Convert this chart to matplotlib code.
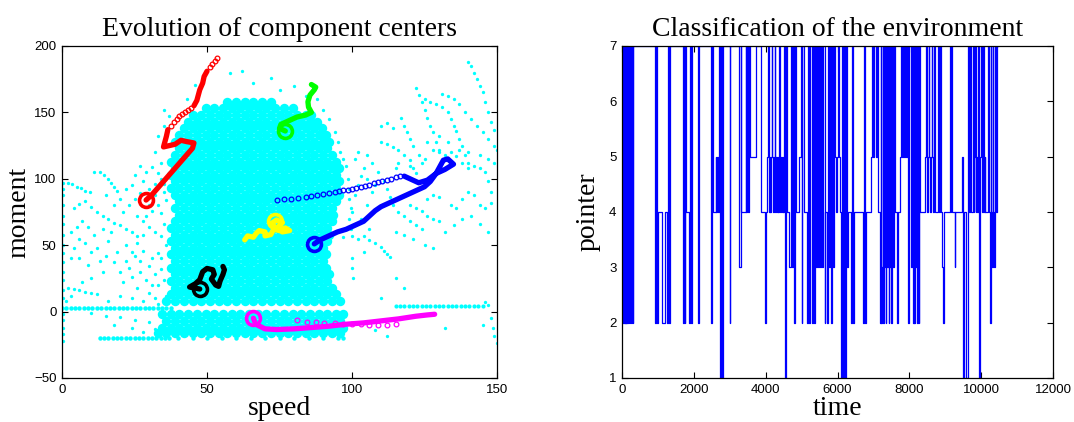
import numpy as np
import matplotlib
matplotlib.use("Agg")
from matplotlib import pyplot as plt

# ---- left panel: cyan observation cloud ----
# dense core, one row of speeds per moment level
core_moment = [158, 153, 148, 143, 138, 133, 128, 123, 118, 113, 108, 103, 98, 93, 88, 83, 78, 73,
               68, 63, 58, 53, 48, 43, 38, 33, 28, 23, 18, 13, 8, -2, -7, -12, -16]
core_speed = [
    [57, 60, 63, 66, 69, 72],
    [49.5, 52.5, 55.5, 58.5, 61.5, 64.5, 67.5, 70.5, 73.5, 76.5, 79.5],
    [45, 48, 51, 54, 57, 60, 63, 66, 69, 72, 75, 78, 81, 84, 86],
    [43.5, 46.5, 49.5, 52.5, 55.5, 58.5, 61.5, 64.5, 67.5, 70.5, 73.5, 76.5, 79.5, 82.5, 85.5, 88],
    [42, 45, 48, 51, 54, 57, 60, 63, 66, 69, 72, 75, 78, 81, 84, 87, 89.5],
    [40.5, 43.5, 46.5, 49.5, 52.5, 55.5, 58.5, 61.5, 64.5, 67.5, 70.5, 73.5, 76.5, 79.5, 82.5, 85.5, 88.5, 91],
    [39, 42, 45, 48, 51, 54, 57, 60, 63, 66, 69, 72, 75, 78, 81, 84, 87, 90, 92],
    [40.5, 43.5, 46.5, 49.5, 52.5, 55.5, 58.5, 61.5, 64.5, 67.5, 70.5, 73.5, 76.5, 79.5, 82.5, 85.5, 88.5, 91.5],
    [39, 42, 45, 48, 51, 54, 57, 60, 63, 66, 69, 72, 75, 78, 81, 84, 87, 90, 93],
    [37.5, 40.5, 43.5, 46.5, 49.5, 52.5, 55.5, 58.5, 61.5, 64.5, 67.5, 70.5, 73.5, 76.5, 79.5, 82.5, 85.5, 88.5, 91.5, 94.5],
    [39, 42, 45, 48, 51, 54, 57, 60, 63, 66, 69, 72, 75, 78, 81, 84, 87, 90, 93, 95.5],
    [37.5, 40.5, 43.5, 46.5, 49.5, 52.5, 55.5, 58.5, 61.5, 64.5, 67.5, 70.5, 73.5, 76.5, 79.5, 82.5, 85.5, 88.5, 91.5, 94.5],
    [39, 42, 45, 48, 51, 54, 57, 60, 63, 66, 69, 72, 75, 78, 81, 84, 87, 90, 93, 95.5],
    [37.5, 40.5, 43.5, 46.5, 49.5, 52.5, 55.5, 58.5, 61.5, 64.5, 67.5, 70.5, 73.5, 76.5, 79.5, 82.5, 85.5, 88.5, 91.5, 94.5],
    [39, 42, 45, 48, 51, 54, 57, 60, 63, 66, 69, 72, 75, 78, 81, 84, 87, 90, 93, 95.5],
    [40.5, 43.5, 46.5, 49.5, 52.5, 55.5, 58.5, 61.5, 64.5, 67.5, 70.5, 73.5, 76.5, 79.5, 82.5, 85.5, 88.5, 91.5, 94.5],
    [39, 42, 45, 48, 51, 54, 57, 60, 63, 66, 69, 72, 75, 78, 81, 84, 87, 90, 93],
    [40.5, 43.5, 46.5, 49.5, 52.5, 55.5, 58.5, 61.5, 64.5, 67.5, 70.5, 73.5, 76.5, 79.5, 82.5, 85.5, 88.5, 91.5, 93.5],
    [39, 42, 45, 48, 51, 54, 57, 60, 63, 66, 69, 72, 75, 78, 81, 84, 87, 90, 93],
    [37.5, 40.5, 43.5, 46.5, 49.5, 52.5, 55.5, 58.5, 61.5, 64.5, 67.5, 70.5, 73.5, 76.5, 79.5, 82.5, 85.5, 88.5, 91.5],
    [39, 42, 45, 48, 51, 54, 57, 60, 63, 66, 69, 72, 75, 78, 81, 84, 87, 90, 92],
    [37.5, 40.5, 43.5, 46.5, 49.5, 52.5, 55.5, 58.5, 61.5, 64.5, 67.5, 70.5, 73.5, 76.5, 79.5, 82.5, 85.5, 88.5, 91.5],
    [39, 42, 45, 48, 51, 54, 57, 60, 63, 66, 69, 72, 75, 78, 81, 84, 87, 90],
    [37.5, 40.5, 43.5, 46.5, 49.5, 52.5, 55.5, 58.5, 61.5, 64.5, 67.5, 70.5, 73.5, 76.5, 79.5, 82.5, 85.5, 88.5, 91],
    [39, 42, 45, 48, 51, 54, 57, 60, 63, 66, 69, 72, 75, 78, 81, 84, 87, 90],
    [37.5, 40.5, 43.5, 46.5, 49.5, 52.5, 55.5, 58.5, 61.5, 64.5, 67.5, 70.5, 73.5, 76.5, 79.5, 82.5, 85.5, 88.5, 91],
    [39, 42, 45, 48, 51, 54, 57, 60, 63, 66, 69, 72, 75, 78, 81, 84, 87, 90, 92],
    [37.5, 40.5, 43.5, 46.5, 49.5, 52.5, 55.5, 58.5, 61.5, 64.5, 67.5, 70.5, 73.5, 76.5, 79.5, 82.5, 85.5, 88.5, 91.5],
    [39, 42, 45, 48, 51, 54, 57, 60, 63, 66, 69, 72, 75, 78, 81, 84, 87, 90, 93],
    [37.5, 40.5, 43.5, 46.5, 49.5, 52.5, 55.5, 58.5, 61.5, 64.5, 67.5, 70.5, 73.5, 76.5, 79.5, 82.5, 85.5, 88.5, 91.5, 94.5],
    [36, 39, 42, 45, 48, 51, 54, 57, 60, 63, 66, 69, 72, 75, 78, 81, 84, 87, 90, 93, 96],
    [34.5, 37.5, 40.5, 43.5, 46.5, 49.5, 52.5, 55.5, 58.5, 61.5, 64.5, 67.5, 70.5, 73.5, 76.5, 79.5, 82.5, 85.5, 88.5, 91.5, 94.5, 97],
    [36, 39, 42, 45, 48, 51, 54, 57, 60, 63, 66, 69, 72, 75, 78, 81, 84, 87, 90, 93, 96],
    [34.5, 37.5, 40.5, 43.5, 46.5, 49.5, 52.5, 55.5, 58.5, 61.5, 64.5, 67.5, 70.5, 73.5, 76.5, 79.5, 82.5, 85.5, 88.5, 91.5, 94.5, 97],
    [33, 36, 39, 42, 45, 48, 51, 54, 57, 60, 63, 66, 69, 72, 75, 78, 81, 84, 87, 90, 93, 96],
]

# the two horizontal bands of the cloud and the short one on the right
band_top_speed = [0, 1.5, 3, 4.5, 6, 7.5, 9, 10.5, 12, 13.5, 15, 16.5, 18, 19.5, 21, 22.5, 24, 25.5,
                  27, 28.5, 30, 31.5, 33, 34.5, 36, 37.5]
band_top_moment = 3
band_low_speed = [13, 14.5, 16, 17.5, 19, 20.5, 22, 23.5, 25, 26.5, 28, 29.5, 31, 32.5, 34, 35.5,
                  37, 40, 45, 50, 55, 60, 65, 70, 75, 80, 85, 90, 95, 97]
band_low_moment = -20
band_right_speed = [115, 116.5, 118, 119.5, 121, 122.5, 124, 125.5, 127, 128.5, 130, 131.5, 133,
                    134.5, 136, 137.5, 139, 140.5, 142, 143.5, 145]
band_right_moment = 4

# scattered observations outside the core (speed, moment)
cloud_sparse = [
    (0.5, 97), (0.5, 92), (0.5, 88), (0.5, 80), (0.5, 72), (0.5, 66), (0.5, 58), (0.5, 50), (0.5, 44),
    (0.5, 37), (0.5, 30), (0.5, 24), (0.5, 16), (0.5, 10), (0.5, -2), (0.5, -6), (0.5, -12), (0.5, -17),
    (0.5, -22), (2, 97), (3.5, 96), (5, 94), (6.5, 93), (8, 91), (9.5, 90), (11, 105), (13, 105),
    (14.5, 103), (16, 100), (17, 97), (18, 94), (19, 91), (4, 78), (6, 81), (8, 83), (10, 79), (12, 75),
    (14, 72), (16, 70), (18, 67), (3, 60), (5, 64), (7, 68), (20, 65), (22, 62), (24, 60), (26, 57),
    (21, 75), (23, 80), (25, 85), (27, 89), (24, 95), (28, 98), (30, 92), (32, 88), (26, 72), (28, 68),
    (30, 64), (32, 60), (34, 57), (31, 76), (33, 80), (8, 52), (12, 48), (16, 53), (19, 45), (22, 50),
    (25, 42), (28, 46), (31, 40), (33, 44), (30, 34), (27, 30), (24, 26), (21, 22), (26, 18), (30, 14),
    (33, 20), (32, 28), (34, 32), (2, 18), (4, 17), (6, 16), (8, 15), (10, 14), (12, 13), (3, 12),
    (1.5, 8), (7, 22), (10, 25), (14, 30), (13, 38), (6, 40), (9, 35), (10, -1), (15, -3),
    (20, -4), (25, -6), (30, -8), (18, -10), (24, -12), (28, -15), (32, -13), (43, 160), (46, 171),
    (58, 180), (62, 181), (66, 172), (72, 176), (75, 167), (80, 170), (84, 162), (88, 160), (90, 152),
    (92, 145), (94, 135), (95, 128), (96, 120), (97, 115), (35, 152), (37, 147), (35, 140), (33, 132),
    (32, 120), (34, 112), (33, 104), (35, 96), (31, 109), (35, 90), (36, 84), (34, 74), (35, 66),
    (36, 50), (34, 40), (35, 24), (36, 12), (33, 6),
    (20, 30), (22, 38), (24, 45), (26, 52), (28, 58), (29, 72), (30, 80), (32, 96), (34, 100),
    (29, 105), (27, 110), (25, 103), (22, 92), (20, 85), (18, 80), (15, 88), (17, 60), (14, 62),
    (11, 58), (9, 64), (6, 55), (4, 48), (3, 40), (10, 45), (15, 42), (18, 37), (23, 33), (27, 38),
    (29, 24), (31, 20), (24, 10), (20, 12), (16, 8), (28, 8), (32, 10),
    (98, 110), (98.5, 100), (99, 92), (99, 85), (99.5, 78), (99, 70), (99.5, 62), (100, 40), (100, 33),
    (100.5, 25), (97, 56), (100, 57), (102, 55), (104, 57), (106, 54), (108, 52), (110, 49), (111, 46),
    (112, 43), (113, 41), (105, 118), (107, 112), (109, 105), (111, 98), (112, 92), (113, 86),
    (114, 80), (116, 75), (118, 72), (120, 68), (122, 65), (124, 62), (110, 128), (112, 126),
    (114, 124), (116, 122), (118, 118), (120, 114), (121, 108), (122, 104), (117, 146), (118, 140),
    (119, 135), (120, 130), (121, 125), (123, 118), (124, 112), (122, 168), (123, 163), (124, 158),
    (125, 152), (126, 146), (127, 140), (128, 135), (129, 128), (130, 122), (125, 160), (127, 158),
    (129, 156), (131, 154), (133, 150), (134, 145), (135, 140), (136, 136), (137, 130), (138, 125),
    (139, 118), (140, 112), (142, 110), (144, 108), (146, 105), (147, 98), (148, 90), (148, 82),
    (131, 164), (133, 162), (135, 160), (137, 156), (139, 150), (141, 145), (143, 140), (145, 135),
    (147, 130), (149, 125), (150, 122), (140, 188), (141, 185), (142, 180), (143, 175), (144, 170),
    (145, 165), (146, 158), (147, 150), (148, 143), (149, 137), (120, 80), (122, 78), (124, 76),
    (126, 72), (128, 70), (130, 68), (126, 85), (128, 88), (130, 86), (134, 80), (136, 78), (138, 85),
    (140, 90), (142, 88), (144, 80), (146, 78), (128, 122), (130, 120), (132, 118), (134, 120),
    (136, 117), (138, 112), (140, 108), (120, 110), (125, 115), (115, 108), (116, 112), (115, 25),
    (118, 18), (110, 10), (108, -14), (112, -18), (132, -12), (145, -10), (146, 7), (147, 5),
    (148, -5), (148.5, -12), (149, -18), (150, -24), (100, 75), (101, 88), (102, 95), (103, 102),
    (104, 108), (101, 115), (102, 120),
    (103, 70), (105, 80), (107, 90), (108, 95), (105, 100), (106, 62), (104, 45), (115, 60),
    (118, 58), (121, 55), (125, 50), (128, 48), (132, 60), (135, 65), (138, 70), (141, 72),
    (144, 66), (147, 60), (110, 140), (112, 142), (114, 138), (126, 128), (130, 132), (133, 128),
    (137, 122), (140, 120), (144, 118), (147, 115), (149, 112),
]

# ---- component centre trajectories (speed, moment) ----
red_path = [(29, 84), (31, 88), (33, 93), (35, 98), (37, 103), (39, 108), (41, 113), (43, 118),
            (45, 123), (45.5, 127), (43, 128), (41, 129), (39, 126), (37, 125), (35, 124),
            (35.5, 128), (36, 132), (36.5, 137)]
red_sparse = [(37.5, 140), (38.5, 143), (39.5, 145), (40.5, 147), (41.5, 149), (42.5, 150.5),
              (43.5, 152), (44.5, 153.5)]
red_top = [(45.5, 155), (46.5, 159), (47, 163), (47.5, 167), (48.5, 172), (49, 177), (50, 181)]
red_tail = [(51, 184), (51.8, 186.5), (52.6, 189), (53.3, 191)]
green_path = [(77, 136), (75, 138), (75.5, 141), (78, 143.5), (81, 146.5), (84, 148), (86, 150),
              (85, 154), (84.8, 158), (85.5, 163), (87, 167), (87.5, 169), (86, 171)]
blue_path = [(87, 51), (89, 54), (92, 57), (95, 60), (98, 62), (101, 65), (104, 68), (106, 72),
             (108, 76), (110, 79), (113, 82), (116, 85), (119, 88), (122, 91), (125, 94), (127, 98),
             (129, 104), (130.5, 110), (131.5, 114), (133, 115), (135, 111), (132, 107), (129, 104),
             (126, 99), (123, 97), (120, 100), (118, 102)]
blue_sparse = [(74, 84), (76.5, 84.5), (79, 85), (81.5, 85.8), (84, 86.5), (86, 87), (88, 87.8),
               (90, 88.5), (92, 89.2), (94, 90), (95.5, 90.6), (97, 91.2), (98.5, 91.8), (100, 92.5),
               (101.5, 93.2), (103, 94), (104.5, 94.8), (106, 95.6), (107.5, 96.5), (109, 97.3),
               (110.5, 98.2), (112, 99.1), (113.5, 100), (115, 101), (116.5, 102)]
yellow_path = [(63, 54), (64, 57), (66, 56), (67, 59), (68, 61), (70, 60), (70, 57), (72, 58),
               (73, 62), (75, 61), (77, 63), (78.5, 61), (76, 60), (74, 63), (72, 66), (74, 69),
               (76, 67), (75, 65)]
black_path = [(47.5, 17), (44, 18.5), (46, 21), (47.5, 24), (48.5, 30), (50, 32.5), (52, 31.5),
              (52.5, 28), (51.5, 24.5), (53, 20), (54, 19), (54.5, 23), (55.5, 28), (56, 31.5),
              (55.5, 34)]
magenta_path = [(66, -5), (66.8, -9.5), (70, -13), (74, -13.5), (80, -13), (86, -12), (92, -11),
                (98, -9.5), (104, -8.5), (110, -7), (116, -5.5), (122, -3.5), (126, -2.5), (128.5, -2)]
magenta_sparse = [(81, -6.5), (84.5, -7.5), (87.5, -8), (90.5, -8.3), (94, -8.8), (97, -9.2),
                  (100, -9.3), (103, -9.6), (106, -9.8), (109, -10), (112, -9.9), (115, -9.6)]

# start circles of the trajectories
start_speed = [29, 77, 87, 73.5, 47.5, 66]
start_moment = [84, 136, 51, 68, 17, -5]
start_color = ['#ff0000', '#00ff00', '#0000ff', '#ffff00', '#000000', '#ff00ff']

# ---- right panel: pointer changes (time, value) ----
pointer_steps = [
    (0, 7), (20, 2), (40, 7), (60, 2), (75, 7), (95, 2), (110, 7), (125, 2), (140, 7), (155, 2),
    (170, 7), (185, 2), (200, 7), (215, 2), (230, 7), (245, 2), (260, 7), (275, 2), (290, 7),
    (305, 2), (320, 7), (930, 2), (955, 7), (980, 2), (1005, 4), (1100, 2), (1190, 4), (1265, 2),
    (1285, 7), (1320, 2), (1345, 7), (1695, 2), (1720, 7), (1745, 2), (1765, 7), (1790, 4),
    (1855, 2), (1880, 7), (1910, 2), (1950, 7), (2110, 2), (2130, 7), (2470, 2), (2500, 7),
    (2525, 4), (2610, 5), (2630, 4), (2650, 5), (2670, 4), (2690, 5), (2710, 7), (2740, 1),
    (2770, 7), (2790, 1), (2810, 7), (2995, 2), (3015, 7), (3260, 3), (3300, 7), (3320, 4),
    (3440, 7), (3465, 4), (3490, 7), (3515, 4), (3540, 7), (3560, 5), (3720, 7), (3860, 4),
    (3980, 2), (4000, 4), (4040, 5), (4070, 7), (4090, 4), (4110, 5), (4130, 4), (4150, 5),
    (4170, 7), (4190, 5), (4210, 4), (4230, 5), (4250, 7), (4270, 4), (4290, 5), (4310, 4),
    (4330, 5), (4350, 4), (4370, 7), (4390, 5), (4410, 4), (4430, 5), (4450, 4), (4470, 5),
    (4490, 4), (4510, 7), (4540, 1), (4570, 7), (4600, 4), (4660, 3), (4700, 7), (4730, 3),
    (4760, 7), (4790, 2), (4815, 7), (4840, 4), (4930, 5), (4980, 7), (5000, 2), (5020, 7),
    (5060, 4), (5150, 2), (5175, 7), (5210, 2), (5240, 7), (5290, 2), (5320, 7), (5350, 2),
    (5375, 7), (5400, 3), (5430, 7), (5460, 3), (5490, 7), (5520, 3), (5550, 7), (5580, 3),
    (5610, 7), (5640, 2), (5665, 4), (5700, 2), (5725, 7), (5760, 3), (5790, 7), (5820, 2),
    (5845, 7), (5870, 3), (5900, 7), (5930, 5), (5960, 4), (5990, 5), (6010, 7), (6040, 5),
    (6070, 4), (6090, 1), (6120, 7), (6150, 1), (6190, 7), (6220, 1), (6250, 7), (6270, 3),
    (6300, 4), (6380, 2), (6410, 7), (6440, 2), (6470, 4), (6700, 2), (6725, 7), (6755, 2),
    (6790, 4), (6940, 5), (6970, 7), (7000, 5), (7030, 7), (7060, 5), (7090, 7), (7120, 4),
    (7180, 2), (7200, 7), (7220, 2), (7240, 3), (7260, 7), (7280, 2), (7300, 7), (7320, 3),
    (7340, 2), (7360, 7), (7380, 3), (7400, 7), (7420, 2), (7440, 7), (7460, 3), (7480, 7),
    (7500, 2), (7520, 7), (7550, 3), (7580, 7), (7600, 4), (7650, 2), (7680, 4), (7740, 5),
    (7780, 7), (7800, 5), (7820, 7), (7850, 5), (7870, 7), (7900, 5), (7930, 7), (7960, 2),
    (8000, 7), (8050, 3), (8080, 7), (8100, 2), (8120, 7), (8140, 2), (8160, 7), (8180, 3),
    (8200, 7), (8220, 2), (8240, 7), (8260, 2), (8280, 7), (8300, 4), (8440, 5), (8460, 7),
    (8480, 5), (8500, 4), (8520, 5), (8540, 7), (8560, 5), (8580, 4), (8600, 5), (8620, 7),
    (8640, 5), (8660, 4), (8680, 5), (8700, 7), (8720, 4), (8800, 7), (8820, 4), (8860, 7),
    (8880, 4), (8920, 3), (8940, 2), (8960, 4), (9120, 7), (9150, 4), (9170, 7), (9200, 4),
    (9260, 3), (9280, 4), (9480, 5), (9500, 1), (9530, 4), (9570, 1), (9620, 7), (9660, 4),
    (9700, 7), (9730, 4), (9760, 7), (9790, 4), (9810, 5), (9830, 7), (9850, 4), (9870, 5),
    (9890, 4), (9910, 7), (9930, 5), (9950, 1), (9980, 5), (10000, 7), (10020, 4), (10040, 5),
    (10060, 7), (10080, 4), (10100, 5), (10120, 4), (10200, 7), (10220, 4), (10240, 2),
    (10260, 7), (10280, 4), (10300, 3), (10320, 7), (10340, 4), (10360, 3), (10380, 7),
    (10400, 4), (10440, 7), (10460, 7),
]

CYAN = '#00ffff'


def xy(points):
    arr = np.array(points, dtype=float)
    return arr[:, 0], arr[:, 1]


def style_axes(ax):
    ax.tick_params(direction='in', top=True, right=True, length=4, width=0.8,
                   labelsize=9.5, pad=4)
    for lab in ax.get_xticklabels() + ax.get_yticklabels():
        lab.set_family('Liberation Sans')
    for sp in ax.spines.values():
        sp.set_linewidth(0.9)


def plot_cloud(ax):
    for m, speeds in zip(core_moment, core_speed):
        ax.plot(speeds, [m] * len(speeds), 'o', color=CYAN, ms=6.8, mew=0, zorder=1)
    ax.plot(band_top_speed, [band_top_moment] * len(band_top_speed), 'o', color=CYAN, ms=3.2, mew=0)
    ax.plot(band_low_speed, [band_low_moment] * len(band_low_speed), 'o', color=CYAN, ms=3.2, mew=0)
    ax.plot(band_right_speed, [band_right_moment] * len(band_right_speed), 'o', color=CYAN, ms=3.0, mew=0)
    sx, sy = xy(cloud_sparse)
    ax.plot(sx, sy, 'o', color=CYAN, ms=2.4, mew=0, zorder=1)


def plot_paths(ax):
    thick = dict(lw=3.8, solid_capstyle='round', solid_joinstyle='round', zorder=3)
    small = dict(ls='none', marker='o', mfc='none', ms=3.4, mew=0.9, zorder=3)
    for path, col in [(red_path, '#ff0000'), (red_top, '#ff0000'), (green_path, '#00ff00'),
                      (blue_path, '#0000ff'), (yellow_path, '#ffff00'), (black_path, '#000000'),
                      (magenta_path, '#ff00ff')]:
        px, py = xy(path)
        ax.plot(px, py, color=col, **thick)
    for path, col in [(red_sparse, '#ff0000'), (red_tail, '#ff0000'), (blue_sparse, '#0000ff'),
                      (magenta_sparse, '#ff00ff')]:
        px, py = xy(path)
        ax.plot(px, py, color=col, **small)
    for sx, sy, col in zip(start_speed, start_moment, start_color):
        ax.plot(sx, sy, 'o', mfc='none', mec=col, ms=10, mew=2.6, zorder=4)


def main():
    plt.rcParams['font.family'] = ['Liberation Serif', 'DejaVu Serif']
    fig = plt.figure(figsize=(10.74, 4.22), dpi=100)

    ax1 = fig.add_axes([62 / 1074, 44 / 422, 435 / 1074, 332 / 422])
    plot_cloud(ax1)
    plot_paths(ax1)
    ax1.set_xlim(0, 150)
    ax1.set_ylim(-50, 200)
    ax1.set_xticks([0, 50, 100, 150])
    ax1.set_yticks([-50, 0, 50, 100, 150, 200])
    ax1.set_title("Evolution of component centers", fontsize=20, pad=7)
    ax1.set_xlabel("speed", fontsize=20, labelpad=0)
    ax1.set_ylabel("moment", fontsize=20, labelpad=2)
    style_axes(ax1)

    ax2 = fig.add_axes([622 / 1074, 44 / 422, 431 / 1074, 332 / 422])
    tt, vv = xy(pointer_steps)
    ax2.step(tt, vv, where='post', color='#0000ff', lw=0.9)
    ax2.set_xlim(0, 12000)
    ax2.set_ylim(1, 7)
    ax2.set_xticks(range(0, 12001, 2000))
    ax2.set_yticks(range(1, 8))
    ax2.set_title("Classification of the environment", fontsize=20, pad=7)
    ax2.set_xlabel("time", fontsize=20, labelpad=0)
    ax2.set_ylabel("pointer", fontsize=20, labelpad=6)
    style_axes(ax2)

    fig.savefig("out.png", dpi=100, facecolor='white')


if __name__ == '__main__':
    main()
